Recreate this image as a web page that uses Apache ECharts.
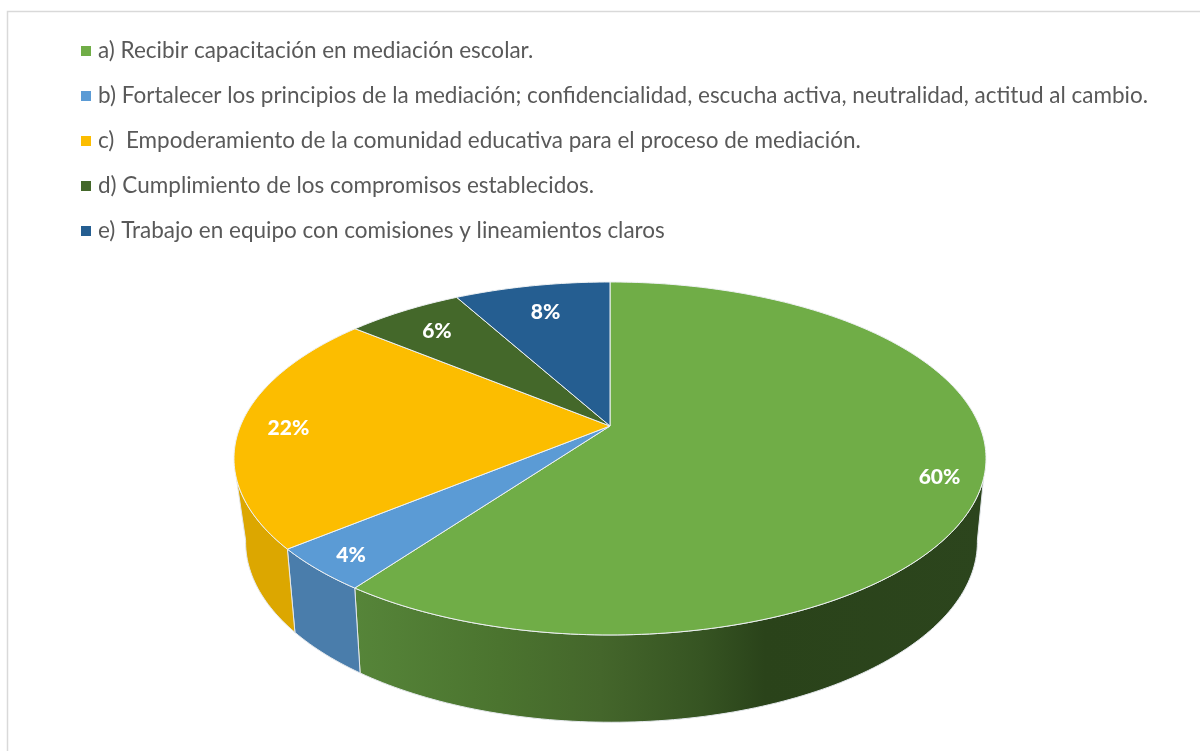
<!DOCTYPE html>
<html>
<head>
<meta charset="utf-8">
<title>Mediación escolar</title>
<script src="https://cdn.jsdelivr.net/npm/echarts@6/dist/echarts.min.js"></script>
<style>
  html, body { margin: 0; padding: 0; background: #fff; }
  #chart { width: 1200px; height: 751px; }
</style>
</head>
<body>
<div id="chart"></div>
<script>
  const categories = [
    "a) Recibir capacitación en mediación escolar.",
    "b) Fortalecer los principios de la mediación; confidencialidad, escucha activa, neutralidad, actitud al cambio.",
    "c)  Empoderamiento de la comunidad educativa para el proceso de mediación.",
    "d) Cumplimiento de los compromisos establecidos.",
    "e) Trabajo en equipo con comisiones y lineamientos claros"
  ];
  const shares = [60, 4, 22, 6, 8];
  const colors = ["#70ad47", "#5b9bd5", "#fcbd00", "#44682a", "#255e91"];

  // the pie is tilted, so a flat ellipse is not enough: both faces use a perspective division
  const topFace = { x: 610, y: 426, a: 369.6, b: 170.5, k: 0.184 };
  const bottomFace = { x: 611.5, y: 506, a: 358.5, b: 173, k: 0.2 };
  const labelRadius = [0.89, 0.9, 0.87, 0.82, 0.8];
  const total = shares.reduce((s, v) => s + v, 0);

  function project(face, deg, r) {
    const t = deg * Math.PI / 180;
    const u = Math.sin(t) * r;
    const v = Math.cos(t) * r;
    const w = 1 + face.k * v;
    return [face.x + face.a * u / w, face.y - face.b * v / w];
  }

  function arc(face, from, to) {
    const pts = [];
    const steps = Math.max(2, Math.ceil(Math.abs(to - from)));
    for (let i = 0; i <= steps; i++) {
      pts.push(project(face, from + (to - from) * i / steps, 1));
    }
    return pts;
  }

  function wallFill(i) {
    if (i === 0) {
      return new echarts.graphic.LinearGradient(354, 0, 986, 0, [
        { offset: 0, color: "#568539" },
        { offset: 0.23, color: "#4b742f" },
        { offset: 0.39, color: "#44662b" },
        { offset: 0.55, color: "#365422" },
        { offset: 0.65, color: "#2a431a" },
        { offset: 1, color: "#2c451d" }
      ], true);
    }
    if (i === 1) return "#4a7dab";
    return "#dca700";
  }

  function renderSlice(i) {
    return function () {
      const before = shares.slice(0, i).reduce((s, v) => s + v, 0);
      const start = before / total * 360;
      const end = (before + shares[i]) / total * 360;
      const children = [];

      // only the front of the rim is visible, and the silhouette edge joins different angles on the two faces
      const topFrom = Math.max(start, 107), topTo = Math.min(end, 253);
      const botFrom = Math.max(start, 101), botTo = Math.min(end, 259);
      if (topFrom < topTo) {
        children.push({
          type: "polygon",
          shape: { points: arc(topFace, topFrom, topTo).concat(arc(bottomFace, botTo, botFrom)) },
          style: { fill: wallFill(i), stroke: "#e4e8ec", lineWidth: 1 }
        });
      }

      children.push({
        type: "polygon",
        shape: { points: [[topFace.x, topFace.y]].concat(arc(topFace, start, end)) },
        style: { fill: colors[i], stroke: "#eef1f3", lineWidth: 1, lineJoin: "round" }
      });

      const p = project(topFace, (start + end) / 2, labelRadius[i]);
      children.push({
        type: "text",
        style: {
          text: shares[i] + "%",
          x: p[0], y: p[1] + 2,
          align: "center", verticalAlign: "middle",
          fill: "#fff",
          font: "900 21px Lato"
        }
      });
      return { type: "group", children: children };
    };
  }

  const chart = echarts.init(document.getElementById("chart"), null, { renderer: "canvas" });

  const option = {
    animation: false,
    backgroundColor: "#fff",
    graphic: [{
      type: "rect",
      silent: true,
      shape: { x: 7.5, y: 11.5, width: 1200, height: 760 },
      style: { fill: "none", stroke: "#d9d9d9", lineWidth: 1.5 }
    }],
    legend: {
      orient: "vertical",
      left: 81,
      top: 39,
      padding: 0,
      icon: "rect",
      itemWidth: 10,
      itemHeight: 10,
      itemGap: 21,
      selectedMode: false,
      data: categories,
      textStyle: { color: "#595959", fontFamily: "Lato", fontSize: 22.5, lineHeight: 24, padding: [0, 0, 0, 2] }
    },
    series: categories.map((name, i) => ({
      type: "custom",
      name: name,
      coordinateSystem: "none",
      silent: true,
      itemStyle: { color: colors[i] },
      data: [shares[i]],
      renderItem: renderSlice(i)
    }))
  };

  chart.setOption(option);
  window.addEventListener("resize", () => {
    chart.resize();
  });
</script>
</body>
</html>
